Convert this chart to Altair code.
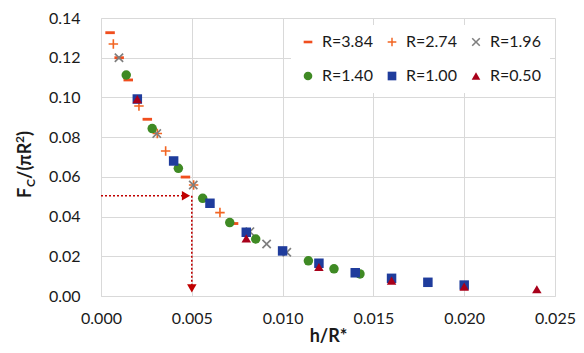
import altair as alt
import pandas as pd

series_names = ["R=3.84", "R=2.74", "R=1.96", "R=1.40", "R=1.00", "R=0.50"]
series_colors = ["#F04E1E", "#F26522", "#7F7F7F", "#3F8A24", "#1F3C9C", "#A8001A"]

dash_x = [0.0005, 0.0010, 0.0015, 0.00255, 0.00465, 0.0073]
dash_y = [0.1326, 0.1200, 0.1088, 0.0890, 0.0599, 0.0365]

plus_x = [0.00068, 0.00209, 0.0031, 0.00356, 0.0051, 0.00655]
plus_y = [0.1269, 0.0957, 0.0818, 0.0730, 0.0559, 0.0420]

cross_x = [0.00099, 0.00307, 0.00508, 0.0082, 0.00912, 0.01023]
cross_y = [0.1200, 0.0818, 0.0559, 0.0324, 0.0262, 0.0220]

circle_x = [0.00139, 0.00282, 0.00426, 0.0056, 0.00709, 0.00852, 0.01142, 0.01283, 0.01426]
circle_y = [0.1113, 0.0843, 0.0643, 0.0492, 0.0370, 0.0287, 0.0177, 0.0137, 0.0111]

square_x = [0.002, 0.004, 0.006, 0.008, 0.010, 0.012, 0.014, 0.016, 0.018, 0.020]
square_y = [0.0992, 0.0680, 0.0467, 0.0321, 0.0227, 0.0165, 0.0117, 0.0089, 0.0069, 0.0055]

tri_x = [0.002, 0.008, 0.012, 0.016, 0.020, 0.024]
tri_y = [0.0992, 0.0290, 0.0146, 0.0077, 0.0047, 0.0034]

x_ticks = [0.0, 0.005, 0.010, 0.015, 0.020, 0.025]
y_ticks = [0.0, 0.02, 0.04, 0.06, 0.08, 0.10, 0.12, 0.14]

# annotation (dotted arrows) in data units
ann_h_x = [0.0, 0.0046]
ann_h_y = 0.0505
ann_v_x = 0.005
ann_v_y = [0.0505, 0.0030]
ann_head_right = (0.00468, 0.0505)
ann_head_down = (0.005, 0.0038)

# y title pieces
ytitle_pieces = ["F", "C", "/(πR", "2", ")"]

shape_paths = [
    "M-1,-0.3H1V0.3H-1Z",
    "M-0.17,-1H0.17V-0.17H1V0.17H0.17V1H-0.17V0.17H-1V-0.17H-0.17Z",
    "M-1,-0.75L-0.75,-1L0,-0.25L0.75,-1L1,-0.75L0.25,0L1,0.75L0.75,1L0,0.25L-0.75,1L-1,0.75L-0.25,0Z",
    "circle",
    "square",
    "triangle-up",
]

rows = []
for name, xs, ys in zip(series_names,
                        [dash_x, plus_x, cross_x, circle_x, square_x, tri_x],
                        [dash_y, plus_y, cross_y, circle_y, square_y, tri_y]):
    for xv, yv in zip(xs, ys):
        rows.append({"x": xv, "y": yv, "s": name})
df = pd.DataFrame(rows)

# legend fills column-major: reorder so rows read like the reference
legend_order = [0, 3, 1, 4, 2, 5]
dom = [series_names[i] for i in legend_order]
col_range = [series_colors[i] for i in legend_order]
shp_range = [shape_paths[i] for i in legend_order]

xscale = alt.Scale(domain=[0, 0.025], nice=False, zero=False)
yscale = alt.Scale(domain=[0, 0.14], nice=False, zero=False)
X = alt.X("x:Q", scale=xscale,
          axis=alt.Axis(values=x_ticks, format=".3f", title="h/R*", labelFlush=False))
Y = alt.Y("y:Q", scale=yscale,
          axis=alt.Axis(values=y_ticks, format=".2f", title=None, labelFlush=False))

legend = alt.Legend(
    orient="none", legendX=190, legendY=7, columns=3, title=None,
    fillColor="white", padding=9, labelFont="Lato", labelFontSize=16,
    labelColor="#1a1a1a", symbolSize=75, rowPadding=18, columnPadding=11,
    labelOffset=6, gridAlign="all", symbolStrokeWidth=0,
)

points = alt.Chart(df).mark_point(filled=True, opacity=1, size=90).encode(
    x=X, y=Y,
    color=alt.Color("s:N", scale=alt.Scale(domain=dom, range=col_range), legend=legend),
    shape=alt.Shape("s:N", scale=alt.Scale(domain=dom, range=shp_range), legend=legend),
)

ann_color = "#C00000"
hline = alt.Chart(pd.DataFrame({"x": [ann_h_x[0]], "x2": [ann_h_x[1]], "y": [ann_h_y]})).mark_rule(
    color=ann_color, strokeDash=[2, 2], strokeWidth=1.6).encode(x=X, x2="x2:Q", y=Y)
vline = alt.Chart(pd.DataFrame({"x": [ann_v_x], "y": [ann_v_y[0]], "y2": [ann_v_y[1]]})).mark_rule(
    color=ann_color, strokeDash=[2, 2], strokeWidth=1.6).encode(x=X, y=Y, y2="y2:Q")
head_r = alt.Chart(pd.DataFrame({"x": [ann_head_right[0]], "y": [ann_head_right[1]]})).mark_point(
    shape="triangle-right", filled=True, color=ann_color, opacity=1, size=90).encode(x=X, y=Y)
head_d = alt.Chart(pd.DataFrame({"x": [ann_head_down[0]], "y": [ann_head_down[1]]})).mark_point(
    shape="triangle-down", filled=True, color=ann_color, opacity=1, size=90).encode(x=X, y=Y)

def tpiece(txt, px, py, size):
    return alt.Chart(pd.DataFrame({"t": [txt]})).mark_text(
        angle=270, align="left", baseline="alphabetic", font="Lato",
        fontWeight="bold", fontSize=size, color="#1a1a1a").encode(
        x=alt.value(px), y=alt.value(py), text="t:N")

yt = (tpiece(ytitle_pieces[0], -70, 180, 18)
      + tpiece(ytitle_pieces[1], -66, 169, 12)
      + tpiece(ytitle_pieces[2], -70, 161, 18)
      + tpiece(ytitle_pieces[3], -77, 125, 12)
      + tpiece(ytitle_pieces[4], -70, 118, 18))

chart = alt.layer(hline, vline, head_r, head_d, points, yt).properties(
    width=454, height=278,
    padding={"left": 93, "top": 10, "right": 21, "bottom": 49},
    autosize=alt.AutoSizeParams(type="none"),
).configure_view(stroke=None).configure_axis(
    gridColor="#D9D9D9", gridWidth=1, domainColor="#D9D9D9", ticks=False,
    labelFont="Lato", labelFontSize=16, labelColor="#1a1a1a",
    titleFont="Lato", titleFontSize=18, titleFontWeight="bold", titleColor="#1a1a1a",
).configure_axisY(labelPadding=21).configure_axisX(labelPadding=14, titlePadding=1)

chart.save("out.html", embed_options={"renderer": "svg", "actions": False})
